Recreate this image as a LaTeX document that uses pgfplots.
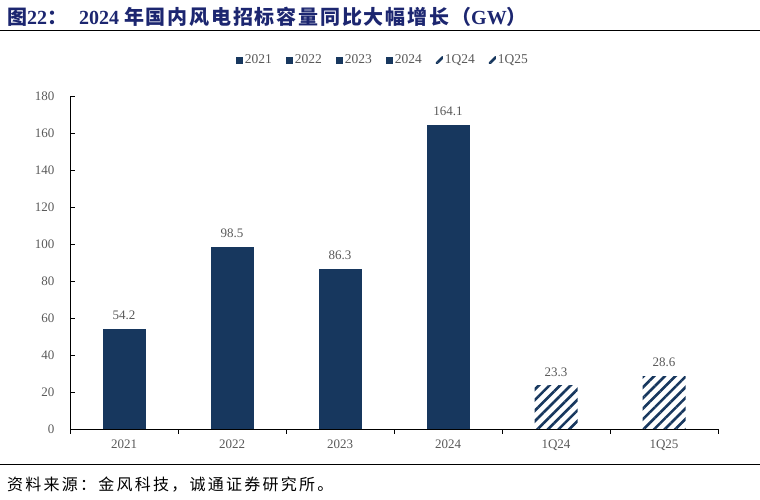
\documentclass[border=0pt]{standalone}
\usepackage{fontspec}
\usepackage{pgfplots}
\pgfplotsset{compat=1.18}
\usetikzlibrary{patterns.meta}
\setmainfont{Liberation Serif}
\newfontfamily\cjk{Noto Sans CJK SC}
\newfontfamily\cjkt{Noto Sans CJK SC}[LetterSpace=9]
\newfontfamily\cjks{Noto Sans CJK SC}[LetterSpace=14]
\definecolor{navy}{RGB}{23,55,94}
\definecolor{titleblue}{RGB}{28,38,112}
\definecolor{txtgray}{RGB}{89,89,89}
\pgfplotsset{sq legend/.style={legend image code/.code={\fill[##1] (0pt,-3.5pt) rectangle (7pt,3.5pt);}}}
\begin{document}
\begin{tikzpicture}
\useasboundingbox (0,0) rectangle (760pt,500pt);
\node[anchor=west, inner sep=0, text=titleblue, font=\fontsize{20}{23}\selectfont\bfseries] at (7pt,483pt) {{\cjkt\bfseries 图}22{\cjkt\bfseries ：}\hspace{0.6em}2024 {\cjkt\bfseries 年国内风电招标容量同比大幅增长（}GW{\cjkt\bfseries ）}};
\draw[line width=1pt] (0,469pt) -- (760pt,469pt);
\draw[line width=1pt] (0,35pt) -- (760pt,35pt);
\node[anchor=west, inner sep=0, font=\fontsize{16}{18}\selectfont\cjks] at (7pt,15pt) {资料来源：金风科技，诚通证券研究所。};
\begin{axis}[
  at={(70pt,71pt)}, anchor=south west,
  scale only axis, width=648pt, height=333pt,
  ymin=0, ymax=180, ytick={0,20,...,180},
  xmin=-0.5, xmax=5.5,
  axis x line*=bottom, axis y line*=left,
  xtick={-0.5,0.5,1.5,2.5,3.5,4.5,5.5}, xticklabels={},
  extra x ticks={0,1,2,3,4,5},
  extra x tick labels={2021,2022,2023,2024,1Q24,1Q25},
  extra x tick style={major tick length=0pt},
  major tick length=5pt,
  tick style={black, line width=0.8pt},
  axis line style={black, line width=0.9pt},
  /pgf/number format/assume math mode=true,
  yticklabel style={font=\fontsize{13}{15}\selectfont, text=txtgray, xshift=-12pt},
  xticklabel style={font=\fontsize{13}{15}\selectfont, text=txtgray, yshift=-7pt},
  ybar, bar width=43pt, bar shift=0pt,
  point meta=explicit symbolic,
  nodes near coords,
  nodes near coords style={font=\fontsize{13}{15}\selectfont, text=txtgray, yshift=6pt},
  legend columns=6,
  legend style={draw=none, fill=none, at={(0.483,1.108)}, anchor=center,
    font=\fontsize{13.5}{15}\selectfont, text=txtgray,
    /tikz/every even column/.append style={column sep=12pt}},
]
\addplot[fill=navy, draw=none, sq legend] coordinates {(0,54.2) [54.2]};
\addlegendentry{2021}
\addplot[fill=navy, draw=none, sq legend] coordinates {(1,98.5) [98.5]};
\addlegendentry{2022}
\addplot[fill=navy, draw=none, sq legend] coordinates {(2,86.3) [86.3]};
\addlegendentry{2023}
\addplot[fill=navy, draw=none, sq legend] coordinates {(3,164.1) [164.1]};
\addlegendentry{2024}
\addplot[draw=none, pattern={Lines[angle=45,distance=7.5pt,line width=2.6pt]}, pattern color=navy, sq legend] coordinates {(4,23.3) [23.3]};
\addlegendentry{1Q24}
\addplot[draw=none, pattern={Lines[angle=45,distance=7.5pt,line width=2.6pt]}, pattern color=navy, sq legend] coordinates {(5,28.6) [28.6]};
\addlegendentry{1Q25}
\end{axis}
\end{tikzpicture}
\end{document}
